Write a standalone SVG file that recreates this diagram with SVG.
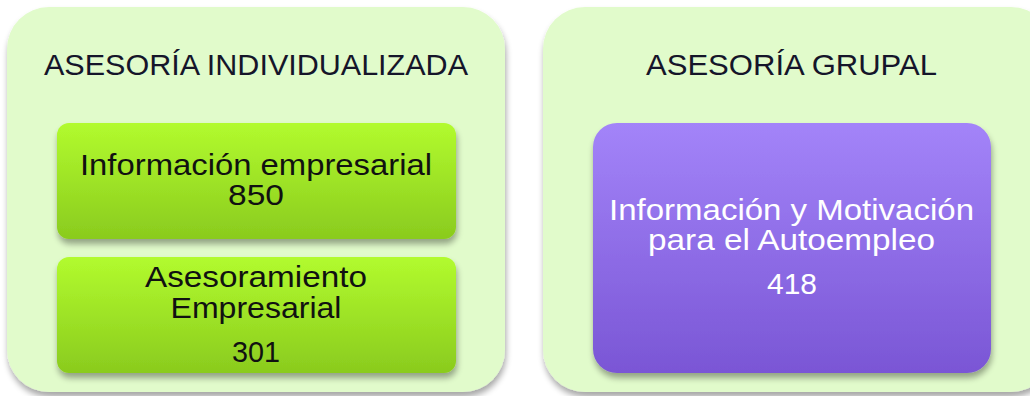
<svg xmlns="http://www.w3.org/2000/svg" width="1030" height="396" viewBox="0 0 1030 396">
<style>
text{font-family:"Liberation Sans",Arial,sans-serif;text-anchor:middle;font-size:30px;}
.title{fill:#15152a;}
.lbl{fill:#111;}
.lblw{fill:#fff;}
</style>
<defs>
<linearGradient id="gGreen" x1="0" y1="0" x2="0" y2="1">
<stop offset="0" stop-color="#b2fb2e"/>
<stop offset="1" stop-color="#8acb1e"/>
</linearGradient>
<linearGradient id="gPurple" x1="0" y1="0" x2="0" y2="1">
<stop offset="0" stop-color="#a384f9"/>
<stop offset="1" stop-color="#7a56d5"/>
</linearGradient>
<filter id="sh" x="-10%" y="-10%" width="120%" height="130%">
<feGaussianBlur in="SourceAlpha" stdDeviation="3"/>
<feOffset dx="1" dy="5" result="b"/>
<feComponentTransfer><feFuncA type="linear" slope="0.35"/></feComponentTransfer>
<feMerge><feMergeNode/><feMergeNode in="SourceGraphic"/></feMerge>
</filter>
</defs>
<rect width="1030" height="396" fill="#fff"/>
<g id="group-individual">
<rect x="7" y="7" width="498" height="385" rx="42" fill="#e1fbcb" filter="url(#sh)"/>
<text class="title" x="256" y="75" textLength="424" lengthAdjust="spacingAndGlyphs">ASESORÍA INDIVIDUALIZADA</text>
</g>
<g id="group-grupal">
<rect x="543" y="7" width="510" height="385" rx="42" fill="#e1fbcb" filter="url(#sh)"/>
<text class="title" x="791.5" y="75" textLength="291" lengthAdjust="spacingAndGlyphs">ASESORÍA GRUPAL</text>
</g>
<g id="node-info-empresarial">
<rect x="57" y="123" width="399" height="116" rx="12" fill="url(#gGreen)" filter="url(#sh)"/>
<text class="lbl" x="256" y="175" textLength="352" lengthAdjust="spacingAndGlyphs">Información empresarial</text>
<text class="lbl" x="256" y="205" textLength="56" lengthAdjust="spacingAndGlyphs">850</text>
</g>
<g id="node-asesoramiento">
<rect x="57" y="257" width="399" height="116" rx="12" fill="url(#gGreen)" filter="url(#sh)"/>
<text class="lbl" x="256" y="287" textLength="222" lengthAdjust="spacingAndGlyphs">Asesoramiento</text>
<text class="lbl" x="256" y="318" textLength="171" lengthAdjust="spacingAndGlyphs">Empresarial</text>
<text class="lbl" x="256" y="362" textLength="48" lengthAdjust="spacingAndGlyphs">301</text>
</g>
<g id="node-motivacion">
<rect x="593" y="123" width="398" height="250" rx="24" fill="url(#gPurple)" filter="url(#sh)"/>
<text class="lblw" x="791.5" y="220" textLength="365" lengthAdjust="spacingAndGlyphs">Información y Motivación</text>
<text class="lblw" x="791.5" y="250" textLength="287" lengthAdjust="spacingAndGlyphs">para el Autoempleo</text>
<text class="lblw" x="792" y="294" textLength="50" lengthAdjust="spacingAndGlyphs">418</text>
</g>
<g id="connectors"/>
</svg>
